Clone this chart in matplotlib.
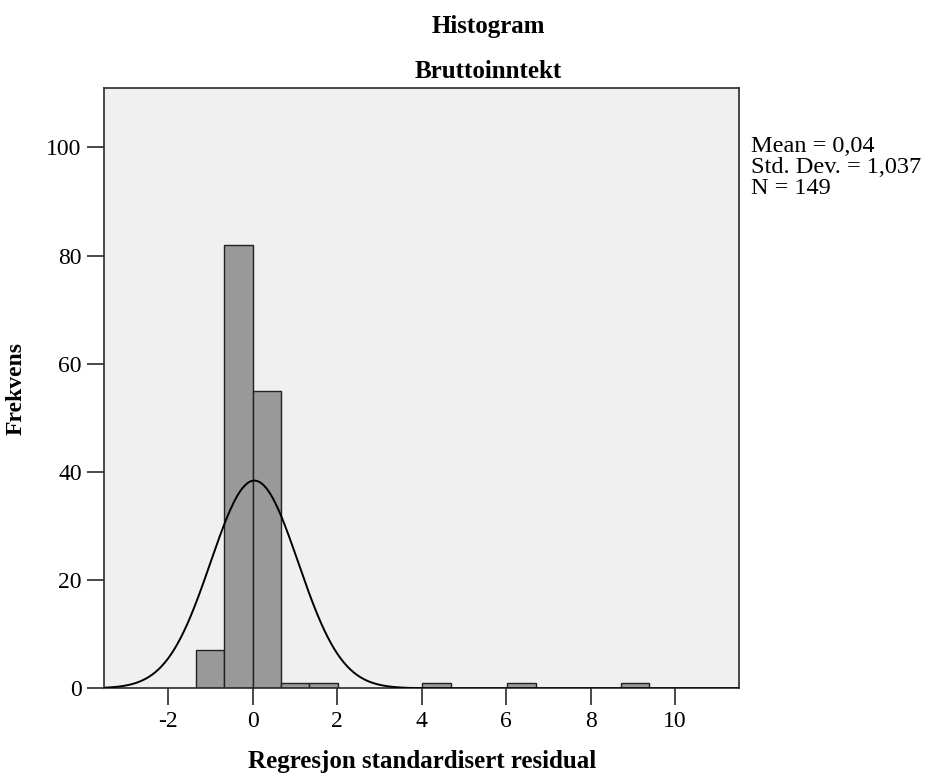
import numpy as np
import matplotlib
matplotlib.use("Agg")
import matplotlib.pyplot as plt

# histogram data
bin_width = 0.67
bin_starts = [-1.34, -0.67, 0.0, 0.67, 1.34, 4.02, 6.03, 8.71]
counts = [7, 82, 55, 1, 1, 1, 1, 1]

x_ticks = [-2, 0, 2, 4, 6, 8, 10]
y_ticks = [0, 20, 40, 60, 80, 100]

mean_val = 0.04
std_val = 1.037
n_val = 149
stat_lines = ['Mean = 0,04', 'Std. Dev. = 1,037', 'N = 149']

plt.rcParams['font.family'] = ['Liberation Serif', 'DejaVu Serif']

fig = plt.figure(figsize=(9.35, 7.76), dpi=100)
ax = fig.add_axes([104/935, 1-688.3/776, (739.3-104)/935, (688.3-88)/776])
ax.set_facecolor('#f0f0f0')

ax.bar(bin_starts, counts, width=bin_width, align='edge',
       color='#999999', edgecolor='#222222', linewidth=1.0, zorder=2)

# normal curve from the reported stats
xs = np.linspace(-3.52, 11.52, 600)
ys = n_val * bin_width * np.exp(-0.5*((xs-mean_val)/std_val)**2) / (std_val*np.sqrt(2*np.pi))
ax.plot(xs, ys, color='black', linewidth=1.4, zorder=3)

ax.set_xlim(-3.52, 11.52)
ax.set_ylim(0, 111)
ax.set_xticks(x_ticks)
ax.set_xticklabels([str(t) for t in x_ticks])
ax.set_yticks(y_ticks)
ax.tick_params(axis='both', length=12, width=1.2, color='#2a2a2a',
               labelsize=17, pad=4)
for s in ax.spines.values():
    s.set_color('#2a2a2a')
    s.set_linewidth(1.2)

ax.set_xlabel('Regresjon standardisert residual', fontsize=18,
              fontweight='bold', labelpad=13)
ax.set_ylabel('Frekvens', fontsize=17, fontweight='bold', labelpad=14)

fig.text(488/935, 1-33/776, 'Histogram', ha='center', va='baseline',
         fontsize=18, fontweight='bold')
fig.text(488/935, 1-78/776, 'Bruttoinntekt', ha='center', va='baseline',
         fontsize=18, fontweight='bold')

# stats box, one line at a time to keep the tight spacing
for i, line in enumerate(stat_lines):
    fig.text(751/935, 1-(152 + 21*i)/776, line, ha='left', va='baseline',
             fontsize=17.5)

fig.savefig('out.png', dpi=100)
